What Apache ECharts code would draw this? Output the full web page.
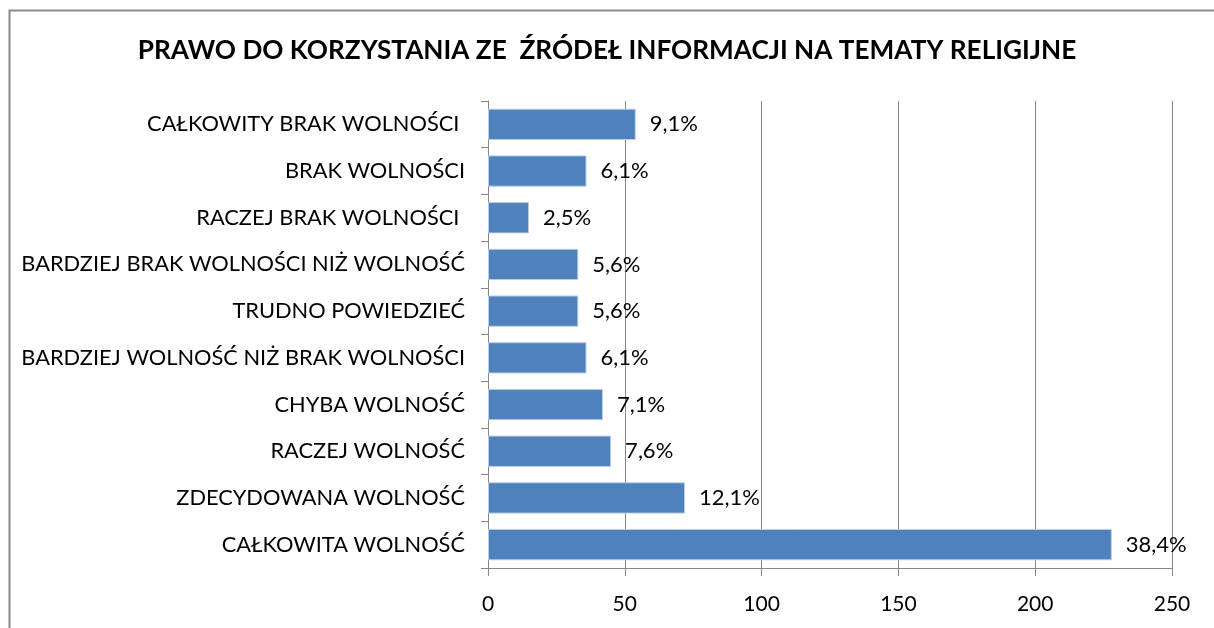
<!DOCTYPE html>
<html>
<head>
<meta charset="utf-8">
<script src="https://cdn.jsdelivr.net/npm/echarts@6/dist/echarts.min.js"></script>
<style>
  html, body { margin: 0; padding: 0; background: #fff; }
  #chart { width: 1214px; height: 628px; }
</style>
</head>
<body>
<div id="chart"></div>
<script>
// kategorie od góry do dołu
const categories = [
  'CAŁKOWITY BRAK WOLNOŚCI ',
  'BRAK WOLNOŚCI',
  'RACZEJ BRAK WOLNOŚCI ',
  'BARDZIEJ BRAK WOLNOŚCI NIŻ WOLNOŚĆ',
  'TRUDNO POWIEDZIEĆ',
  'BARDZIEJ WOLNOŚĆ NIŻ BRAK WOLNOŚCI',
  'CHYBA WOLNOŚĆ',
  'RACZEJ WOLNOŚĆ',
  'ZDECYDOWANA WOLNOŚĆ',
  'CAŁKOWITA WOLNOŚĆ'
];
// liczba odpowiedzi
const counts = [54, 36, 15, 33, 33, 36, 42, 45, 72, 228];
// etykiety procentowe
const percentLabels = ['9,1%', '6,1%', '2,5%', '5,6%', '5,6%', '6,1%', '7,1%', '7,6%', '12,1%', '38,4%'];
const xTicks = [0, 50, 100, 150, 200, 250];

const fontFamily = 'Lato, "Open Sans", sans-serif';
const chart = echarts.init(document.getElementById('chart'));

const option = {
  animation: false,
  backgroundColor: '#fff',
  title: {
    text: 'PRAWO DO KORZYSTANIA ZE  ŹRÓDEŁ INFORMACJI NA TEMATY RELIGIJNE',
    left: 'center',
    top: 33,
    textStyle: { fontFamily, fontSize: 26.2, fontWeight: 'bold', color: '#000' }
  },
  graphic: [{
    type: 'rect',
    shape: { x: 9.5, y: 10.5, width: 1220, height: 640 },
    style: { fill: 'none', stroke: '#8a8a8a', lineWidth: 2 },
    silent: true
  }],
  grid: { left: 488, right: 42, top: 101, bottom: 60 },
  xAxis: {
    type: 'value',
    min: xTicks[0],
    max: xTicks[xTicks.length - 1],
    interval: 50,
    axisLine: { show: true, lineStyle: { color: '#868686' } },
    axisTick: { show: true, length: 8, lineStyle: { color: '#868686' } },
    axisLabel: { fontFamily, fontSize: 21, color: '#000', margin: 26 },
    splitLine: { show: true, lineStyle: { color: '#868686' } }
  },
  yAxis: {
    type: 'category',
    inverse: true,
    data: categories,
    axisLine: { show: true, lineStyle: { color: '#868686' } },
    axisTick: { show: true, length: 7, lineStyle: { color: '#868686' } },
    axisLabel: { fontFamily, fontSize: 21.8, color: '#000', margin: 23 }
  },
  series: [{
    type: 'bar',
    data: counts,
    barCategoryGap: '33%',
    itemStyle: { color: '#4F81BD', borderColor: '#b9cde5', borderWidth: 1 },
    label: {
      show: true,
      position: 'right',
      distance: 14,
      fontFamily,
      fontSize: 22,
      color: '#000',
      formatter: p => percentLabels[p.dataIndex]
    }
  }]
};

chart.setOption(option);
</script>
</body>
</html>
